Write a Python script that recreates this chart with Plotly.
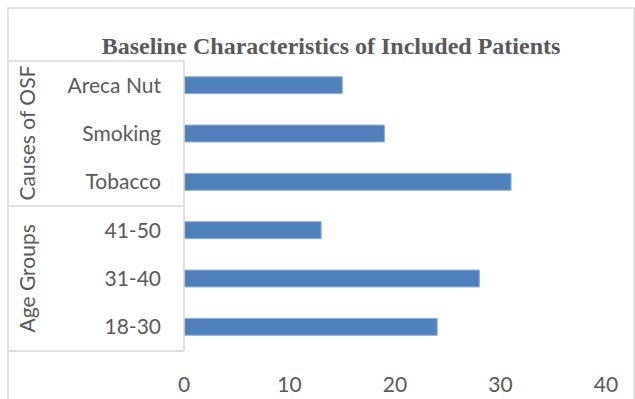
import plotly.graph_objects as go

categories = ["18-30", "31-40", "41-50", "Tobacco", "Smoking", "Areca Nut"]
values = [24, 28, 13, 31, 19, 15]
groups = ["Age Groups", "Causes of OSF"]
x_ticks = [0, 10, 20, 30, 40]

W, H = 635, 399
L, R, T, B = 184, 606, 61, 351
pw, ph = R - L, B - T

def px(x):
    return (x - L) / pw

def py(y):
    return (B - y) / ph

fig = go.Figure(go.Bar(
    x=values, y=categories, orientation="h",
    marker=dict(color="#4f81bd", line=dict(color="#8fb0dc", width=1)),
    width=0.35,
))

grey = "#d9d9d9"
txt = "#595959"
shapes = [
    dict(type="rect", xref="paper", yref="paper", x0=px(8), x1=px(634), y0=py(420), y1=py(8),
         line=dict(color=grey, width=1.5), layer="below"),
    dict(type="line", xref="paper", yref="paper", x0=px(8), x1=px(184), y0=py(61), y1=py(61),
         line=dict(color=grey, width=1.5)),
    dict(type="line", xref="paper", yref="paper", x0=px(8), x1=px(184), y0=py(206), y1=py(206),
         line=dict(color=grey, width=1.5)),
    dict(type="line", xref="paper", yref="paper", x0=px(8), x1=px(184), y0=py(351), y1=py(351),
         line=dict(color=grey, width=1.5)),
    dict(type="line", xref="paper", yref="paper", x0=px(184), x1=px(184), y0=py(61), y1=py(351),
         line=dict(color=grey, width=1.5)),
]

annotations = [
    dict(text=groups[1], xref="paper", yref="paper", x=px(26), y=py(133.5), showarrow=False,
         xanchor="center", yanchor="middle",
         textangle=-90, font=dict(family="Lato", size=21, color=txt)),
    dict(text=groups[0], xref="paper", yref="paper", x=px(26), y=py(278.5), showarrow=False,
         xanchor="center", yanchor="middle",
         textangle=-90, font=dict(family="Lato", size=21, color=txt)),
]

fig.update_layout(
    width=W, height=H,
    margin=dict(l=L, r=W - R, t=T, b=H - B, autoexpand=False),
    paper_bgcolor="white", plot_bgcolor="white",
    title=dict(text="<b>Baseline Characteristics of Included Patients</b>",
               xref="container", yref="container",
               x=331 / W, xanchor="center", y=1 - 46 / H, yanchor="middle",
               font=dict(family="Liberation Serif", size=24, color=txt)),
    xaxis=dict(range=[0, 40], tickvals=x_ticks, showgrid=False, zeroline=False,
               showline=False, ticks="", ticklabelstandoff=19, automargin=False,
               tickfont=dict(family="Lato", size=21, color=txt), fixedrange=True),
    yaxis=dict(categoryorder="array", categoryarray=categories, showgrid=False,
               zeroline=False, showline=False, ticks="", ticklabelstandoff=22,
               automargin=False,
               tickfont=dict(family="Lato", size=21, color=txt)),
    shapes=shapes, annotations=annotations,
    showlegend=False, bargap=0.65,
)

fig.write_html("out.html")
